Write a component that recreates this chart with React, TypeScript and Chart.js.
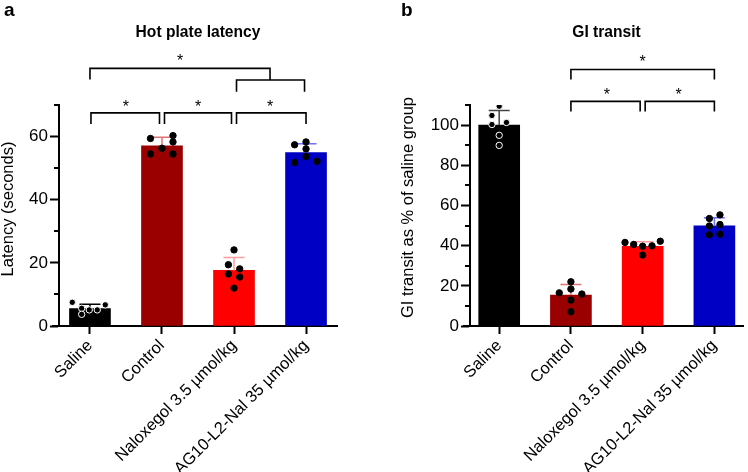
import React, { useEffect, useRef } from 'react';
import { Chart, registerables } from 'chart.js';
Chart.register(...registerables);

const FONT = '"Liberation Sans", Arial, Helvetica, sans-serif';

const categories = ['Saline', 'Control', 'Naloxegol 3.5 µmol/kg', 'AG10-L2-Nal 35 µmol/kg'];
const barColors = ['#000000', '#9b0000', '#ff0000', '#0000c4'];
const dotRing = ['#ffffff', '#000000', '#000000', '#000000'];
const errColorsA = ['#000000', '#e07474', '#ff9c9c', '#6e6eff'];
const errColorsB = ['#444444', '#e07474', '#ff9c9c', '#6e6eff'];

// Panel a: Hot plate latency (seconds)
const hotMeans = [5.5, 57.1, 17.6, 54.9];
const hotSD = [1.4, 2.7, 4.1, 2.8];
const hotSaline = [7.5, 5.6, 3.7, 5.1, 5.1, 6.7];
const hotControl = [59.4, 56.3, 60.3, 58.3, 54.5, 54.5];
const hotNalox = [24.1, 19.4, 18.1, 16.5, 15.5, 12.0];
const hotAG10 = [57.4, 58.3, 56.1, 53.7, 51.8, 52.2];
// horizontal scatter of the dots (px)
const hotSalineOff = [-17.7, -8.3, -8.3, -0.7, 7.3, 15.3];
const hotControlOff = [-11.5, 0, 11, 11, -11.5, 11];
const hotNaloxOff = [0, -5.6, 5.7, -5.6, 5.7, 0];
const hotAG10Off = [-11.4, 0, 0, 0, -11.4, 11];

// Panel b: GI transit (% of saline group)
const giMeans = [100, 15.4, 39.7, 49.8];
const giSD = [7.3, 5.3, 2.2, 4.1];
const giSaline = [109.4, 104.8, 100.3, 101.3, 94.9, 89.9];
const giControl = [22.0, 16.5, 18.4, 15.9, 12.9, 7.1];
const giNalox = [41.6, 40.6, 39.7, 39.9, 42.2, 35.3];
const giAG10 = [55.3, 53.5, 50.5, 49.8, 45.4, 45.7];
const giSalineOff = [0, -7.3, -7.3, 7.3, 0, 0];
const giControlOff = [0, -11.7, 0, 11, 0, 0];
const giNaloxOff = [-17.7, -9, 0, 9.4, 17.7, 0];
const giAG10Off = [5.6, -5, 5.6, -5, -5, 5.6];

// significance brackets: x in group index, y in data units
const hotBrackets = [
  { x1: 0, x2: 1, y: 67.5, l1: 64, l2: 64, g1: 1, g2: 2.5, star: 70.8 },
  { x1: 1, x2: 2, y: 67.5, l1: 64, l2: 64, g1: 2.5, g2: 2.5, star: 70.8 },
  { x1: 2, x2: 3, y: 67.5, l1: 64, l2: 64, g1: 2.5, g2: 0, star: 70.8 },
  { x1: 2, x2: 3, y: 77.9, l1: 74.2, l2: 74.2, g1: 2.5, g2: 1.5, star: null },
  { x1: 0, x2: 2.5, y: 81.6, l1: 78.1, l2: 77.9, g1: 0, g2: 0, star: 85.2 },
];
const giBrackets = [
  { x1: 1, x2: 2, y: 111.8, l1: 106.8, l2: 106.8, g1: 0, g2: 2.5, star: 117.2 },
  { x1: 2, x2: 3, y: 111.8, l1: 106.8, l2: 106.8, g1: 2.5, g2: 0, star: 117.2 },
  { x1: 1, x2: 3, y: 127.7, l1: 122.7, l2: 122.7, g1: 0, g2: 0, star: 133.3 },
];

const GROUP_PX = 72; // distance between group centres, used to turn px jitter into axis units

type Panel = {
  letter: string;
  title: string;
  yTitle: string;
  yMax: number;
  means: number[];
  sd: number[];
  dots: number[][];
  offs: number[][];
  errColors: string[];
  brackets: any[];
  pad: { left: number; right: number };
  yWidth: number;
  xMin: number;
  xMax: number;
  yTitleX: number;
  yTitleY: number;
  letterX: number;
};

const panels: Panel[] = [
  {
    letter: 'a',
    title: 'Hot plate latency',
    yTitle: 'Latency (seconds)',
    yMax: 70,
    means: hotMeans,
    sd: hotSD,
    dots: [hotSaline, hotControl, hotNalox, hotAG10],
    offs: [hotSalineOff, hotControlOff, hotNaloxOff, hotAG10Off],
    errColors: errColorsA,
    brackets: hotBrackets,
    pad: { left: 0, right: 37 },
    yWidth: 59,
    xMin: -0.43,
    xMax: 3.43,
    yTitleX: 8.5,
    yTitleY: 209,
    letterX: 4,
  },
  {
    letter: 'b',
    title: 'GI transit',
    yTitle: 'GI transit as % of saline group',
    yMax: 110,
    means: giMeans,
    sd: giSD,
    dots: [giSaline, giControl, giNalox, giAG10],
    offs: [giSalineOff, giControlOff, giNaloxOff, giAG10Off],
    errColors: errColorsB,
    brackets: giBrackets,
    pad: { left: 0, right: 4 },
    yWidth: 96,
    xMin: -0.407,
    xMax: 3.399,
    yTitleX: 34.5,
    yTitleY: 207.5,
    letterX: 27,
  },
];

function decorPlugin(p: Panel) {
  return {
    id: 'decor' + p.letter,
    afterDatasetDraw(chart: any, args: any) {
      if (args.index !== 0) return;
      const { ctx } = chart;
      const xs = chart.scales.x;
      const ys = chart.scales.y;
      p.means.forEach((m, i) => {
        const px = xs.getPixelForValue(i);
        const y0 = ys.getPixelForValue(m);
        const y1 = ys.getPixelForValue(m + p.sd[i]);
        ctx.save();
        ctx.strokeStyle = p.errColors[i];
        ctx.lineWidth = 1.5;
        ctx.beginPath();
        ctx.moveTo(px, y0);
        ctx.lineTo(px, y1);
        ctx.moveTo(px - 10.5, y1);
        ctx.lineTo(px + 10.5, y1);
        ctx.stroke();
        ctx.restore();
      });
    },
    afterDraw(chart: any) {
      const { ctx, chartArea } = chart;
      const xs = chart.scales.x;
      const ys = chart.scales.y;
      ctx.save();
      ctx.strokeStyle = '#000';
      ctx.fillStyle = '#000';
      // minor y ticks
      ctx.lineWidth = 2;
      for (let v = 10; v <= p.yMax; v += 20) {
        const py = Math.round(ys.getPixelForValue(v));
        ctx.beginPath();
        ctx.moveTo(chartArea.left - 5, py);
        ctx.lineTo(chartArea.left, py);
        ctx.stroke();
      }
      // x axis extends a bit left of the y axis
      ctx.beginPath();
      ctx.moveTo(chartArea.left - 7, chartArea.bottom);
      ctx.lineTo(chartArea.left, chartArea.bottom);
      ctx.stroke();
      // brackets
      ctx.lineWidth = 1.6;
      p.brackets.forEach((b) => {
        const xa = xs.getPixelForValue(b.x1) + b.g1;
        const xb = xs.getPixelForValue(b.x2) - b.g2;
        const yy = ys.getPixelForValue(b.y);
        ctx.beginPath();
        ctx.moveTo(xa, ys.getPixelForValue(b.l1));
        ctx.lineTo(xa, yy);
        ctx.lineTo(xb, yy);
        ctx.lineTo(xb, ys.getPixelForValue(b.l2));
        ctx.stroke();
        if (b.star != null) {
          const sx = xs.getPixelForValue((b.x1 + b.x2) / 2);
          const sy = ys.getPixelForValue(b.star);
          ctx.font = `16px ${FONT}`;
          ctx.textAlign = 'center';
          ctx.textBaseline = 'alphabetic';
          ctx.fillText('*', sx, sy + 0.57 * 16);
        }
      });
      // title
      ctx.font = `bold 15.6px ${FONT}`;
      ctx.textAlign = 'center';
      ctx.textBaseline = 'alphabetic';
      ctx.fillText(p.title, (chartArea.left + chartArea.right) / 2, 37);
      // panel letter
      ctx.font = `bold 19px ${FONT}`;
      ctx.textAlign = 'left';
      ctx.fillText(p.letter, p.letterX, 16);
      // y axis title
      ctx.translate(p.yTitleX, p.yTitleY);
      ctx.rotate(-Math.PI / 2);
      ctx.font = `16.5px ${FONT}`;
      ctx.textAlign = 'center';
      ctx.textBaseline = 'middle';
      ctx.fillText(p.yTitle, 0, 0);
      ctx.restore();
    },
  };
}

function buildConfig(p: Panel): any {
  const dotData: { x: number; y: number }[] = [];
  const rings: string[] = [];
  p.dots.forEach((vals, i) =>
    vals.forEach((v, k) => {
      dotData.push({ x: i + p.offs[i][k] / GROUP_PX, y: v });
      rings.push(dotRing[i]);
    })
  );
  return {
    type: 'bar',
    data: {
      datasets: [
        {
          type: 'bar',
          data: p.means.map((m, i) => ({ x: i, y: m })),
          backgroundColor: barColors,
          borderWidth: 0,
          barThickness: 41,
          order: 2,
        },
        {
          type: 'scatter',
          data: dotData,
          pointRadius: 3.2,
          pointBackgroundColor: '#000',
          pointBorderColor: rings,
          pointBorderWidth: 1,
          order: 1,
        },
      ],
    },
    options: {
      responsive: false,
      animation: false,
      events: [],
      devicePixelRatio: 1,
      layout: { padding: { top: 105, bottom: 0, left: p.pad.left, right: p.pad.right } },
      plugins: { legend: { display: false }, tooltip: { enabled: false }, title: { display: false } },
      scales: {
        x: {
          type: 'linear',
          offset: false,
          min: p.xMin,
          max: p.xMax,
          afterBuildTicks: (s: any) => {
            s.ticks = categories.map((_, i) => ({ value: i }));
          },
          afterFit: (s: any) => {
            s.height = 146;
            s.paddingLeft = 0;
            s.paddingRight = 0;
          },
          ticks: {
            autoSkip: false,
            minRotation: 45,
            maxRotation: 45,
            padding: 2,
            color: '#000',
            font: { family: FONT, size: 16.5 },
            callback: (v: number) => categories[v],
          },
          grid: { offset: false, drawOnChartArea: false, drawTicks: true, tickLength: 8, tickWidth: 2, tickColor: '#000' },
          border: { display: true, color: '#000', width: 2 },
        },
        y: {
          type: 'linear',
          min: 0,
          max: p.yMax,
          afterFit: (s: any) => {
            s.width = p.yWidth;
            s.paddingTop = 0;
            s.paddingBottom = 0;
          },
          ticks: {
            stepSize: 10,
            padding: 2,
            color: '#000',
            font: { family: FONT, size: 17 },
            callback: (v: number) => (v % 20 === 0 ? String(v) : ''),
          },
          grid: {
            drawOnChartArea: false,
            drawTicks: true,
            tickLength: 9,
            tickWidth: 2,
            tickColor: (c: any) => (c.tick && c.tick.value % 20 === 0 ? '#000' : 'rgba(0,0,0,0)'),
          },
          border: { display: true, color: '#000', width: 2 },
        },
      },
    },
    plugins: [decorPlugin(p)],
  };
}

function PanelChart({ panel, left }: { panel: Panel; left: number }) {
  const ref = useRef<HTMLCanvasElement>(null);
  useEffect(() => {
    if (!ref.current) return;
    const chart = new Chart(ref.current, buildConfig(panel));
    return () => chart.destroy();
  }, [panel]);
  return (
    <div style={{ position: 'absolute', left, top: 0, width: 374, height: 472 }}>
      <canvas ref={ref} width={374} height={472} style={{ width: 374, height: 472, display: 'block' }} />
    </div>
  );
}

export default function App() {
  Chart.defaults.font.family = FONT;
  Chart.defaults.color = '#000';
  return (
    <div style={{ position: 'fixed', left: 0, top: 0, width: 748, height: 472, background: '#fff', overflow: 'hidden' }}>
      <PanelChart panel={panels[0]} left={0} />
      <PanelChart panel={panels[1]} left={374} />
    </div>
  );
}
